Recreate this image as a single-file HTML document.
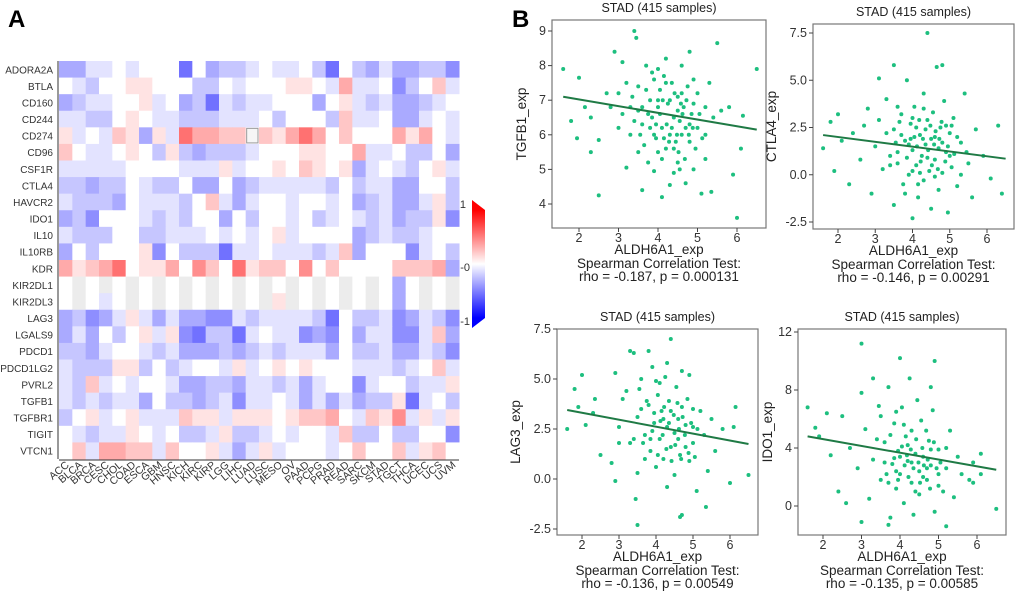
<!DOCTYPE html>
<html><head><meta charset="utf-8"><style>
body{margin:0;background:#fff;width:1020px;height:594px;overflow:hidden;font-family:"Liberation Sans",sans-serif}
svg text{font-family:"Liberation Sans",sans-serif}
</style></head><body>
<svg id="svg" width="1020" height="594" viewBox="0 0 1020 594">
<text x="8" y="27" font-size="24" font-weight="bold">A</text>
<text x="512" y="27" font-size="24" font-weight="bold">B</text>
<g id="heat"></g>
<g id="cbar"></g>
<g id="scat"></g>
</svg>
<script>
const genes=["ADORA2A","BTLA","CD160","CD244","CD274","CD96","CSF1R","CTLA4","HAVCR2","IDO1","IL10","IL10RB","KDR","KIR2DL1","KIR2DL3","LAG3","LGALS9","PDCD1","PDCD1LG2","PVRL2","TGFB1","TGFBR1","TIGIT","VTCN1"];
const cancers=["ACC","BLCA","BRCA","CESC","CHOL","COAD","ESCA","GBM","HNSC","KICH","KIRC","KIRP","LGG","LIHC","LUAD","LUSC","MESO","OV","PAAD","PCPG","PRAD","READ","SARC","SKCM","STAD","TGCT","THCA","UCEC","UCS","UVM"];
const heatValues=[
[-3,-3,-1,-1,0,-1,0,0,0,-5,0,-3,-2,-2,-1,0,-1,-1,0,-2,-5,0,-2,-3,-1,-3,-3,-2,-2,-4],
[0,-1,-2,0,0,1,1,0,0,0,-2,-2,0,-1,0,0,0,1,1,0,-1,3,-1,-1,0,-4,-2,0,2,-1],
[-3,-2,-1,-1,0,0,1,-1,0,-3,-2,-5,-1,-2,-1,-1,0,0,0,-3,0,1,-1,-2,-1,-3,-3,-2,-1,0],
[-1,-1,-2,-2,0,1,0,-1,-1,-2,-2,-2,-1,-1,-1,0,-2,0,0,0,-2,2,-1,-1,0,-3,-3,-1,0,-1],
[1,-1,0,-1,2,1,-3,1,-1,5,3,3,2,2,0,2,1,3,5,3,0,2,0,0,0,3,1,3,0,-1],
[2,0,-1,-1,0,1,0,-2,1,-2,-3,-2,-2,-2,-1,0,0,0,1,1,0,0,3,-1,-1,0,-2,-2,0,-3],
[-1,-1,-1,-1,-1,0,0,0,0,-1,-1,-1,1,-1,0,0,1,0,2,1,0,1,-3,-1,0,-1,-2,0,1,-1],
[-2,-2,-3,-2,-2,0,-1,-2,-2,0,-3,-3,0,-3,-2,-1,-1,-1,-1,-1,-2,0,-2,-1,-1,-3,-3,0,0,-2],
[-1,-2,-2,-2,-3,0,-1,-1,-1,-2,0,2,-1,-3,-1,0,0,-1,0,0,-1,0,-3,-2,-1,-3,-3,-1,1,-2],
[-3,-2,-4,0,0,0,-1,-2,-1,-2,0,0,-3,0,-2,0,0,-1,0,-2,-1,0,-1,-2,-1,-3,-2,-2,1,-4],
[-1,-2,-2,-2,0,0,-2,-2,-1,-1,-1,0,-1,0,-1,0,1,-1,0,0,0,0,-3,-2,-1,-2,-2,-1,0,0],
[-3,0,-2,0,0,0,1,-4,0,-2,-2,-2,-5,-1,-1,0,-1,-1,-1,-2,-1,2,-3,0,0,0,-4,-1,0,-2],
[3,1,2,3,5,0,1,1,3,0,4,2,0,5,1,2,2,0,4,0,2,0,0,0,0,2,2,2,3,-3],
[0,0,0,0,0,0,0,0,0,0,0,0,0,0,0,0,0,0,0,0,0,0,0,0,0,-3,0,0,0,0],
[0,0,0,-1,0,0,0,0,0,0,0,0,0,0,0,0,1,0,0,0,0,0,0,0,0,-3,0,0,0,0],
[-3,-2,-4,-3,-1,1,-1,-3,-1,-3,-3,-4,-4,-1,-2,-1,-1,-1,-1,-2,-5,0,-2,-2,-1,-4,-3,-1,-2,-4],
[-3,-1,-3,0,-2,0,1,-1,1,-4,-5,-2,-2,-5,-1,0,-1,-1,-4,-3,-4,0,-3,-1,-1,-4,-4,-1,2,-3],
[-2,-2,-3,-1,0,0,-1,-2,-1,-3,-3,-3,-2,-3,-2,-1,-2,-1,-1,-1,-3,0,-2,-2,-1,-3,-3,-1,-2,-4],
[-1,-2,-2,-2,1,1,-2,0,-2,-1,0,0,-1,1,-1,0,1,0,1,0,0,0,-1,-1,-1,-2,-1,0,2,-1],
[-1,-2,2,-1,0,-1,0,0,-1,-3,-3,-2,-2,-3,-1,-1,-2,-1,-3,-1,0,0,-4,-1,0,0,-2,-1,-1,1],
[-1,-2,-1,-2,-1,-1,-3,0,-2,-2,-3,-2,-1,-4,-1,-1,0,-1,-3,-1,-3,-1,-3,-2,-2,1,-5,-1,0,-2],
[-2,0,1,-1,0,1,-1,-1,-1,2,1,1,-1,1,1,1,0,1,2,2,3,0,-1,2,1,4,-1,1,-1,1],
[0,-1,-2,-1,-1,1,0,-1,0,-2,-2,-1,1,-2,-2,-1,0,-1,0,0,-1,2,-2,-2,0,-2,-2,0,0,-4],
[0,2,-1,3,3,2,2,-1,2,0,0,1,-1,-3,-1,1,-1,0,0,0,-1,0,2,0,0,2,-1,1,2,0]];
const greyRows=[13,14];
const NS="http://www.w3.org/2000/svg";
function mk(tag,attrs,parent,txt){const e=document.createElementNS(NS,tag);for(const k in attrs)e.setAttribute(k,attrs[k]);if(txt!==undefined)e.textContent=txt;parent.appendChild(e);return e;}
const hx0=59,hy0=61,cw=400/cancers.length,rh=398/genes.length;
const xc=i=>hx0+i*cw, yr=j=>hy0+j*rh;
function col(v,grey){const t=Math.min(1,Math.abs(v)/9);let c=grey?236:255;
 if(v<0)return `rgb(${Math.round(c-c*t)},${Math.round(c-c*t)},255)`;
 if(v>0)return `rgb(255,${Math.round(c-c*t)},${Math.round(c-c*t)})`;return `rgb(${c},${c},${c})`;}
const H=document.getElementById('heat');
genes.forEach((g,j)=>{
 cancers.forEach((c,i)=>{const v=heatValues[j][i];
  const r=mk('rect',{x:xc(i),y:yr(j),width:cw+0.5,height:rh+0.5,fill:col(v,greyRows.includes(j)&&(i%2==1)&&v==0)},H);
  
  });
 const t=mk('text',{x:53,y:yr(j)+rh/2+4,'font-size':10,fill:'#333','text-anchor':'end'},H,g);
 
 
});
mk('line',{x1:58,y1:61,x2:58,y2:459,stroke:'#333'},H);
mk('line',{x1:59,y1:460,x2:459,y2:460,stroke:'#333'},H);
cancers.forEach((c,i)=>{const x=xc(i)+cw/2;
 const t=mk('text',{transform:`translate(${x+4},${466}) rotate(-40)`,'font-size':10.5,fill:'#333','text-anchor':'end'},H,c);
 
 });
mk('rect',{x:xc(14)+1,y:yr(4)+1,width:cw-2,height:rh-2,fill:'#f6f6f6',stroke:'#999','stroke-width':1},H);
const C=document.getElementById('cbar');
const gd=mk('linearGradient',{id:'cg',x1:0,y1:0,x2:0,y2:1},mk('defs',{},C));
mk('stop',{offset:0,'stop-color':'#ff0000'},gd);mk('stop',{offset:0.5,'stop-color':'#ffffff'},gd);mk('stop',{offset:1,'stop-color':'#0000ff'},gd);
mk('rect',{x:472,y:210,width:13,height:108,fill:'url(#cg)'},C);
mk('polygon',{points:'472,200 485,210 472,210',fill:'#f00'},C);
mk('polygon',{points:'472,318 485,318 472,328',fill:'#00f'},C);
mk('text',{x:466,y:208,'font-size':11,'text-anchor':'end',fill:'#333'},C,'1');
mk('text',{x:470,y:271,'font-size':11,'text-anchor':'end',fill:'#333'},C,'-0');
mk('text',{x:470,y:325,'font-size':11,'text-anchor':'end',fill:'#333'},C,'-1');

const xTicks=[2,3,4,5,6];
const genesB=["TGFB1_exp","CTLA4_exp","LAG3_exp","IDO1_exp"];
const rhoText=["rho = -0.187, p = 0.000131","rho = -0.146, p = 0.00291","rho = -0.136, p = 0.00549","rho = -0.135, p = 0.00585"];
const yTicks1=[4,5,6,7,8,9], yTicks2=[-2.5,0,2.5,5,7.5], yTicks3=[-2.5,0,2.5,5,7.5], yTicks4=[0,4,8,12];
const fit1=[[1.6,7.1],[6.5,6.15]], fit2=[[1.6,2.1],[6.5,0.85]], fit3=[[1.6,3.45],[6.5,1.75]], fit4=[[1.6,4.8],[6.5,2.5]];
const pts1=[[1.6,7.9],[2.0,7.65],[1.8,6.4],[1.95,5.9],[2.15,6.8],[2.3,5.5],[2.3,6.5],[2.5,4.25],[2.5,5.85],[2.9,8.4],[3.0,7.2],[3.0,6.2],[3.1,8.1],[3.2,5.05],[3.3,6.8],[3.4,9.0],[3.45,8.8],[3.5,5.5],[3.5,7.4],[3.6,4.4],[3.6,6.3],[3.7,8.0],[3.75,5.2],[3.8,7.0],[3.85,6.5],[3.9,4.95],[3.9,7.6],[3.95,5.9],[4.0,6.8],[4.05,7.3],[4.1,6.2],[4.1,4.2],[4.15,7.7],[4.2,5.6],[4.2,8.2],[4.25,6.9],[4.3,6.0],[4.3,4.55],[4.35,7.5],[4.4,6.5],[4.45,5.8],[4.5,7.1],[4.5,5.2],[4.55,6.4],[4.6,8.0],[4.6,6.0],[4.65,6.8],[4.7,4.6],[4.75,7.4],[4.8,8.4],[4.8,5.8],[4.85,6.6],[4.9,5.0],[5.0,7.2],[5.0,6.2],[5.1,4.3],[5.2,5.3],[5.3,7.5],[5.35,4.35],[5.5,8.65],[5.4,6.5],[5.6,6.7],[5.8,6.8],[5.9,4.85],[6.0,3.6],[6.1,5.6],[6.15,6.55],[6.5,7.9],[3.3,6.0],[3.6,6.8],[4.0,5.5],[4.3,7.0],[4.7,6.2],[3.8,6.2],[4.4,5.6],[3.7,7.3],[4.0,7.9],[4.9,6.9],[3.4,6.4],[4.6,7.2],[4.15,5.9],[3.9,6.0],[4.5,6.7],[4.8,6.3],[3.2,7.5],[5.2,6.0],[2.7,7.2],[2.8,6.8],[3.1,6.6],[3.35,7.1],[3.55,6.0],[3.65,5.7],[3.85,7.8],[3.95,6.3],[4.05,6.6],[4.12,7.0],[4.22,6.3],[4.28,5.8],[4.35,6.2],[4.42,7.2],[4.48,6.0],[4.52,5.5],[4.58,6.9],[4.62,6.6],[4.68,5.3],[4.72,7.0],[4.78,6.0],[4.88,6.2],[4.95,5.6],[5.05,6.6],[5.12,5.9],[5.2,6.8],[4.2,7.5],[4.0,7.0],[3.75,6.6],[3.5,6.7],[4.4,4.9],[4.9,7.6],[4.1,5.3],[4.55,5.0]];
const pts2=[[1.6,1.4],[1.8,2.8],[1.9,0.2],[2.1,1.8],[2.3,-0.5],[2.4,2.2],[2.6,0.8],[2.8,3.5],[2.9,-1.0],[3.0,1.5],[3.1,2.9],[3.2,0.3],[3.3,4.0],[3.4,1.0],[3.5,-1.6],[3.5,2.4],[3.6,0.6],[3.7,3.2],[3.75,-0.5],[3.8,1.8],[3.85,5.0],[3.9,0.0],[3.95,2.7],[4.0,-2.3],[4.0,1.3],[4.05,3.6],[4.1,0.5],[4.15,-1.2],[4.2,2.1],[4.25,1.0],[4.3,4.3],[4.3,-0.3],[4.35,1.6],[4.4,7.5],[4.4,2.9],[4.45,0.2],[4.5,1.9],[4.5,-1.8],[4.55,3.3],[4.6,0.8],[4.65,5.7],[4.7,1.4],[4.7,-0.8],[4.75,2.5],[4.8,0.1],[4.85,3.9],[4.9,1.2],[4.95,-2.0],[5.0,2.2],[5.05,0.4],[5.1,3.0],[5.2,-0.6],[5.3,1.7],[5.4,4.3],[5.5,0.6],[5.6,-1.2],[5.7,2.4],[5.9,1.0],[6.1,-0.2],[6.3,2.6],[6.4,-1.0],[3.6,1.2],[4.1,2.5],[4.6,-0.1],[3.9,1.6],[4.4,0.9],[3.7,2.1],[4.2,0.1],[4.8,1.7],[3.4,0.5],[4.0,3.0],[4.6,2.0],[5.0,1.0],[3.8,-1.0],[3.5,5.8],[4.8,5.8],[3.1,5.1],[2.0,3.2],[2.7,2.6],[3.3,2.2],[3.55,1.7],[3.65,2.8],[3.85,0.9],[3.95,1.9],[4.05,2.0],[4.12,1.5],[4.18,2.9],[4.22,0.7],[4.28,1.9],[4.35,2.4],[4.42,1.3],[4.48,2.6],[4.52,0.5],[4.58,1.6],[4.62,2.3],[4.68,0.3],[4.72,1.9],[4.78,2.8],[4.88,0.7],[4.95,1.5],[5.05,2.6],[5.12,1.1],[5.2,2.0],[5.3,0.0],[4.3,3.5],[4.0,0.2],[3.6,3.6],[4.9,2.6],[4.15,-0.5],[5.45,1.2]];
const pts3=[[1.6,2.5],[1.8,4.5],[1.9,3.6],[2.0,5.2],[2.1,2.7],[2.3,3.3],[2.5,1.2],[2.35,4.0],[2.8,0.8],[2.9,5.3],[3.0,2.6],[2.9,-0.1],[3.2,4.4],[3.3,1.8],[3.4,6.3],[3.5,3.1],[3.5,0.3],[3.6,5.0],[3.7,2.2],[3.45,-1.0],[3.8,3.7],[3.85,1.4],[3.9,5.6],[3.95,2.8],[3.5,-2.3],[4.0,0.6],[4.05,4.2],[4.1,2.0],[4.15,3.4],[4.2,1.0],[4.25,5.1],[4.3,2.6],[4.3,-0.4],[4.35,3.9],[4.4,1.6],[4.4,7.0],[4.5,2.3],[4.5,0.2],[4.55,4.6],[4.6,3.0],[4.65,1.2],[4.7,5.4],[4.7,-1.8],[4.8,2.7],[4.85,4.0],[4.9,0.9],[5.0,3.5],[5.0,1.8],[5.1,-0.6],[4.9,5.2],[5.3,2.2],[5.4,0.4],[5.5,3.0],[5.6,1.4],[5.8,2.5],[6.0,-0.2],[6.1,2.6],[6.15,3.6],[6.5,0.2],[3.6,3.5],[4.2,3.0],[4.6,2.0],[3.9,2.4],[4.4,3.4],[4.8,1.6],[3.4,2.0],[4.1,4.8],[4.7,3.6],[5.0,2.6],[3.7,1.0],[3.0,1.8],[3.1,4.0],[3.3,6.4],[3.55,4.5],[3.65,1.8],[3.75,3.9],[3.85,2.0],[3.95,3.3],[4.05,1.2],[4.12,2.9],[4.18,2.2],[4.22,3.6],[4.28,1.5],[4.35,2.8],[4.42,0.9],[4.48,3.2],[4.52,1.7],[4.58,3.8],[4.62,2.5],[4.68,1.0],[4.72,3.1],[4.78,2.2],[4.88,1.3],[4.95,2.8],[5.05,1.1],[5.12,2.5],[5.2,3.4],[4.0,4.9],[4.3,5.8],[3.8,6.4],[5.35,-1.4],[4.65,-1.9]];
const pts4=[[1.6,6.8],[1.8,5.4],[1.9,4.8],[2.1,6.4],[2.2,3.5],[2.4,1.0],[2.5,6.2],[2.7,4.0],[2.9,2.6],[3.0,7.8],[3.1,5.3],[3.2,0.5],[3.3,3.2],[3.0,11.2],[3.5,6.2],[3.5,1.8],[3.6,4.4],[3.7,8.2],[3.75,-0.8],[3.8,2.9],[3.85,5.7],[3.9,1.2],[3.95,3.8],[4.0,10.2],[4.0,2.2],[4.05,6.8],[4.1,0.2],[4.15,4.8],[4.2,3.1],[4.25,8.8],[4.3,1.6],[4.3,5.2],[4.35,-0.6],[4.4,3.6],[4.45,7.3],[4.5,2.4],[4.5,0.8],[4.55,5.9],[4.6,3.4],[4.9,10.0],[4.7,1.8],[4.75,4.5],[4.8,2.8],[4.85,6.6],[4.9,-0.4],[5.0,3.9],[5.0,1.4],[4.8,8.2],[5.2,2.6],[5.3,5.2],[5.4,0.6],[5.5,3.4],[5.6,2.2],[5.8,1.8],[5.9,3.0],[6.1,2.2],[6.1,3.6],[6.5,-0.2],[3.6,3.0],[4.2,4.2],[4.6,2.0],[3.9,2.4],[4.4,1.0],[4.8,3.9],[3.4,4.6],[4.0,3.4],[4.7,2.6],[5.0,2.2],[3.7,1.6],[3.0,-1.1],[3.7,-1.3],[5.2,-1.4],[3.3,8.8],[3.45,6.9],[3.65,2.2],[3.75,4.9],[3.85,3.3],[3.95,1.8],[4.05,4.1],[4.12,2.8],[4.18,3.5],[4.22,2.0],[4.28,3.9],[4.35,2.6],[4.42,4.6],[4.48,3.0],[4.52,1.6],[4.58,4.0],[4.62,2.8],[4.68,5.2],[4.72,3.2],[4.78,1.2],[4.88,4.4],[4.95,2.6],[5.05,3.0],[5.12,1.0],[5.2,4.0],[4.3,3.0],[4.1,5.6],[3.9,6.5],[2.6,0.2],[5.9,1.6]];
const panels=[
 {t2:579,t6:737,va:4,pa:204,vb:9,pb:31,x0:552,x1:766,y0:20,y1:228,yt:yTicks1,pts:pts1,fit:fit1,lab:26},
 {t2:838,t6:987,va:-2.5,pa:222,vb:7.5,pb:33,x0:813,x1:1014,y0:24,y1:229,yt:yTicks2,pts:pts2,fit:fit2,lab:37},
 {t2:582,t6:730,va:-2.5,pa:529,vb:7.5,pb:329,x0:557,x1:758,y0:329,y1:535,yt:yTicks3,pts:pts3,fit:fit3,lab:37},
 {t2:823,t6:977,va:0,pa:506,vb:12,pb:332,x0:798,x1:1006,y0:329,y1:535,yt:yTicks4,pts:pts4,fit:fit4,lab:26}];
const S=document.getElementById('scat');
panels.forEach((p,k)=>{
 const g=mk('g',{},S);
 
 
 const X=v=>p.t2+(v-2)/4*(p.t6-p.t2);
 const Y=v=>p.pa+(v-p.va)/(p.vb-p.va)*(p.pb-p.pa);
 const cx=(p.x0+p.x1)/2;
 const tt=mk('text',{x:cx,y:p.y0-8,'font-size':12.5,'text-anchor':'middle',fill:'#222'},g,'STAD (415 samples)');
 
 
 p.pts.forEach(q=>{const c=mk('circle',{cx:X(q[0]),cy:Y(q[1]),r:2,fill:'#1dbf7f'},g);
  
  });
 const fl=mk('line',{x1:X(p.fit[0][0]),y1:Y(p.fit[0][1]),x2:X(p.fit[1][0]),y2:Y(p.fit[1][1]),stroke:'#1f7a45','stroke-width':2},g);
 
 
 mk('rect',{x:p.x0,y:p.y0,width:p.x1-p.x0,height:p.y1-p.y0,fill:'none',stroke:'#777','stroke-width':1.2},g);
 xTicks.forEach(v=>{mk('line',{x1:X(v),x2:X(v),y1:p.y1,y2:p.y1+4,stroke:'#444'},g);
  mk('text',{x:X(v),y:p.y1+14,'font-size':12.5,'text-anchor':'middle',fill:'#333'},g,String(v));});
 p.yt.forEach(v=>{mk('line',{x1:p.x0-4,x2:p.x0,y1:Y(v),y2:Y(v),stroke:'#444'},g);
  mk('text',{x:p.x0-6,y:Y(v)+4,'font-size':12.5,'text-anchor':'end',fill:'#333'},g,v.toFixed(k==1||k==2?1:0));});
 const yl=mk('text',{transform:`translate(${p.x0-p.lab},${(p.y0+p.y1)/2}) rotate(-90)`,'font-size':13.5,'text-anchor':'middle',fill:'#222'},g,genesB[k]);
 
 
 const xl=mk('text',{x:cx,y:p.y1+26,'font-size':13.5,'text-anchor':'middle',fill:'#222'},g,'ALDH6A1_exp');
 
 
 mk('text',{x:cx,y:p.y1+40,'font-size':13.5,'text-anchor':'middle',fill:'#222'},g,'Spearman Correlation Test:');
 mk('text',{x:cx,y:p.y1+53,'font-size':13.5,'text-anchor':'middle',fill:'#222'},g,rhoText[k]);
});
</script>
</body></html>
